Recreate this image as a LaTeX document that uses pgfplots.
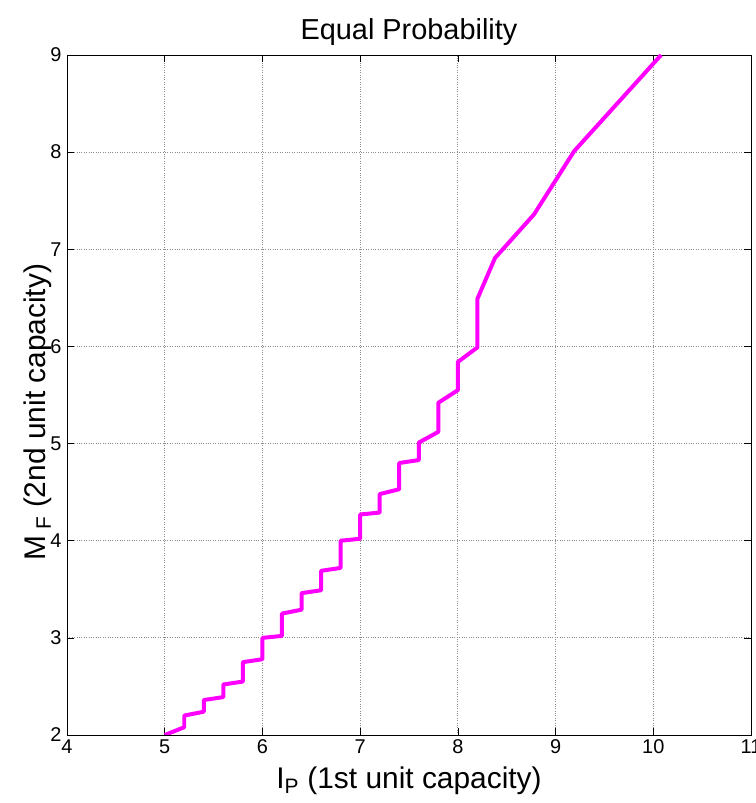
\documentclass[border=0pt]{standalone}
\usepackage{fontspec}
\setmainfont{Liberation Sans}
\usepackage{pgfplots}
\pgfplotsset{compat=1.18}
\definecolor{matmagenta}{RGB}{255,0,255}

\begin{document}
\begin{tikzpicture}
\path[use as bounding box] (-67bp,-68bp) rectangle (689bp,735bp);
\begin{axis}[
    at={(0,0)}, anchor=south west,
    scale only axis,
    width=684bp, height=680bp,
    xmin=4, xmax=11,
    ymin=2, ymax=9,
    xtick={4,...,11},
    ytick={2,...,9},
    grid=major,
    major grid style={dotted, gray!90, line width=0.8pt},
    tick align=inside,
    major tick length=7bp,
    tick style={black, line width=0.6pt},
    axis line style={black, line width=0.8pt},
    /pgf/number format/assume math mode=true,
    ticklabel style={font=\fontsize{20}{22}\selectfont},
    xticklabel style={yshift=-1bp},
    yticklabel style={xshift=-2bp},
    title={Equal Probability},
    title style={font=\fontsize{29}{32}\selectfont, at={(axis description cs:0.5,1)}, anchor=base, yshift=10bp},
    xlabel={I\textsubscript{P} (1st unit capacity)},
    xlabel style={font=\fontsize{30}{32}\selectfont, at={(axis description cs:0.5,-0.078)}, anchor=base},
    ylabel={M\textsubscript{ F} (2nd unit capacity)},
    ylabel style={font=\fontsize{30}{32}\selectfont, at={(axis description cs:-0.032,0.475)}, anchor=base},
]
\addplot[matmagenta, line width=4pt, line join=round] coordinates {
    (5.0,2.0) (5.2,2.08) (5.2,2.2) (5.4,2.24) (5.4,2.36) (5.6,2.39)
    (5.6,2.52) (5.8,2.55) (5.8,2.75) (6.0,2.78) (6.0,3.0) (6.2,3.02)
    (6.2,3.25) (6.4,3.29) (6.4,3.46) (6.6,3.49) (6.6,3.69) (6.8,3.72)
    (6.8,4.0) (7.0,4.02) (7.0,4.27) (7.2,4.29) (7.2,4.48) (7.4,4.53)
    (7.4,4.8) (7.6,4.83) (7.6,5.01) (7.8,5.12) (7.8,5.42) (8.0,5.55)
    (8.0,5.84) (8.2,5.99) (8.2,6.49) (8.38,6.91) (8.78,7.36) (9.19,8.01)
    (10.08,9.0)
};
\end{axis}
\end{tikzpicture}
\end{document}
